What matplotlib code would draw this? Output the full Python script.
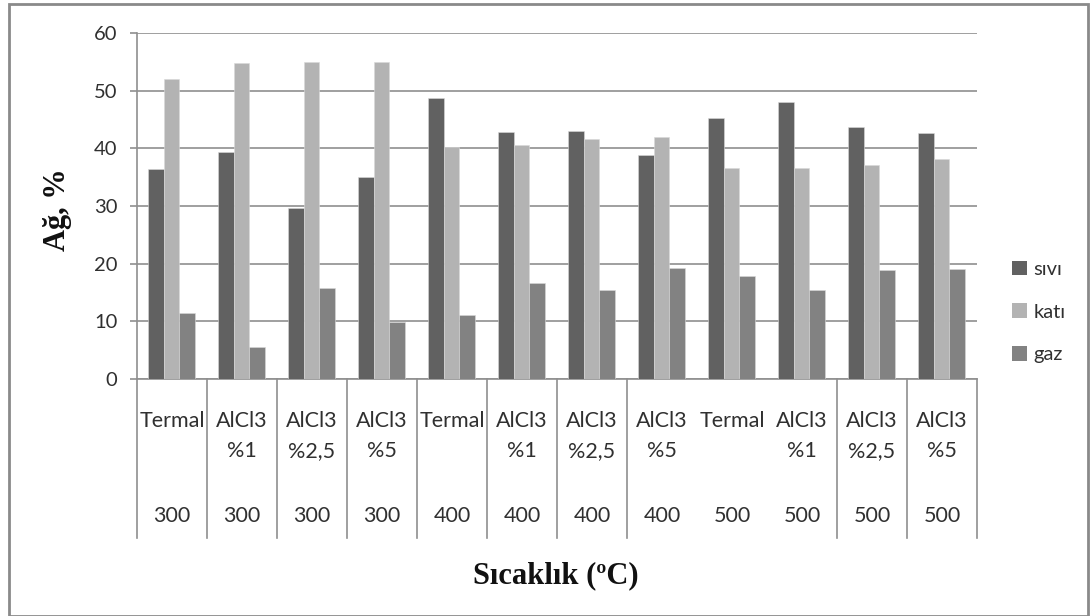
import matplotlib
matplotlib.use("Agg")
import matplotlib.pyplot as plt
from matplotlib.patches import Rectangle, Patch
import numpy as np

methods = ["Termal", "AlCl3\n%1", "AlCl3\n%2,5", "AlCl3\n%5",
           "Termal", "AlCl3\n%1", "AlCl3\n%2,5", "AlCl3\n%5",
           "Termal", "AlCl3\n%1", "AlCl3\n%2,5", "AlCl3\n%5"]
temps = ["300", "300", "300", "300", "400", "400", "400", "400",
         "500", "500", "500", "500"]
series_names = ["sıvı", "katı", "gaz"]
sivi = [36.4, 39.4, 29.6, 35.1, 48.8, 42.8, 43.0, 38.9, 45.3, 48.0, 43.7, 42.6]
kati = [52.1, 54.8, 55.0, 55.0, 40.3, 40.6, 41.7, 41.9, 36.6, 36.6, 37.1, 38.2]
gaz = [11.4, 5.6, 15.7, 9.9, 11.1, 16.7, 15.5, 19.2, 17.8, 15.5, 18.9, 19.1]
y_ticks = [0, 10, 20, 30, 40, 50, 60]

colors = ["#616161", "#b3b3b3", "#828282"]
grid_c = "#8f8f8f"
txt_c = "#303030"
font = ["Lato", "DejaVu Sans"]
fs = 14.5
cfs = 15.5

W, H = 1090, 616
fig = plt.figure(figsize=(W / 100, H / 100), dpi=100)
fig.patch.set_facecolor("white")

# outer border
fig.patches.append(Rectangle((8.5 / W, 0.0), (1088 - 8.5) / W, (616 - 3.5) / H,
                             transform=fig.transFigure, fill=False,
                             edgecolor="#8a8a8a", linewidth=2.0))

left, right, top, bottom = 137, 977, 33, 379
ax = fig.add_axes([left / W, 1 - bottom / H, (right - left) / W, (bottom - top) / H])

n = len(methods)
x = np.arange(n) + 0.5
bw = 0.222
for k, (vals, c) in enumerate(zip([sivi, kati, gaz], colors)):
    ax.bar(x + (k - 1) * bw - 0.01, vals, width=bw, color=c, edgecolor="#d9d9d9",
           linewidth=0.4, zorder=3, label=series_names[k])

ax.set_xlim(0, n)
ax.set_ylim(0, 60)
ax.set_yticks(y_ticks)
ax.yaxis.grid(True, color=grid_c, linewidth=1.2, zorder=0)
ax.set_xticks([])
for s in ["top", "right"]:
    ax.spines[s].set_visible(False)
for s in ["left", "bottom"]:
    ax.spines[s].set_color(grid_c)
    ax.spines[s].set_linewidth(1.2)
ax.tick_params(axis="y", length=5, width=1.2, color=grid_c, pad=9,
               labelsize=fs, labelcolor=txt_c)
for lab in ax.get_yticklabels():
    lab.set_family(font)

# category table below axis
ah = bottom - top
def ay(py):
    return (bottom - py) / ah

tr = ax.get_xaxis_transform()
hidden = {8, 9}
for b in range(n + 1):
    if b in hidden:
        continue
    ax.plot([b, b], [0, ay(538)], transform=tr, color=grid_c, linewidth=1.2,
            clip_on=False, zorder=1)
for i in range(n):
    ax.text(x[i], ay(411), methods[i], transform=tr, ha="center", va="top",
            fontsize=cfs, color=txt_c, family=font, linespacing=1.65)
    ax.text(x[i], ay(516), temps[i], transform=tr, ha="center", va="center",
            fontsize=cfs, color=txt_c, family=font)

fig.text(556 / W, 1 - 576 / H, "Sıcaklık (ºC)", ha="center", va="center",
         fontsize=22, fontweight="bold", family="Liberation Serif", color="#111111")
fig.text(58 / W, 1 - 210 / H, "Ağ, %", ha="center", va="center", rotation=90,
         fontsize=22, fontweight="bold", family="Liberation Serif", color="#111111")

handles = [Patch(facecolor=c, edgecolor="none") for c in colors]
leg = fig.legend(handles, series_names, loc="center left",
                 bbox_to_anchor=(1012 / W, 1 - 312 / H), frameon=False,
                 borderpad=0, borderaxespad=0,
                 handlelength=0.75, handleheight=0.75, handletextpad=0.3,
                 labelspacing=1.25, prop={"family": font, "size": fs})
for t in leg.get_texts():
    t.set_color(txt_c)

fig.savefig("out.png", dpi=100, facecolor="white")
